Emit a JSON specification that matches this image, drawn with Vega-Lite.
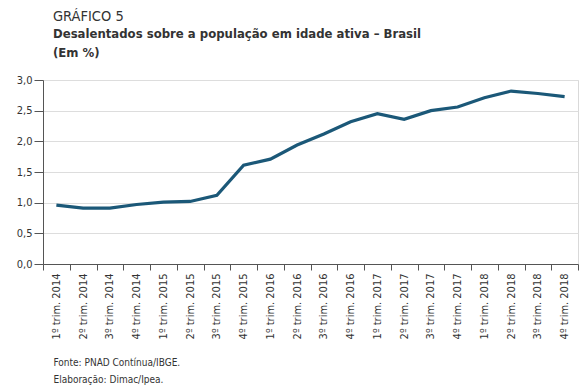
{
  "$schema": "https://vega.github.io/schema/vega-lite/v6.json",
  "width": 535,
  "height": 184,
  "autosize": "none",
  "padding": {"left": 43, "top": 80, "right": 6, "bottom": 123},
  "background": "white",
  "config": {
    "font": "'DejaVu Sans Condensed', sans-serif",
    "view": {"stroke": "#d9d9d9", "strokeWidth": 1}
  },
  "title": {
    "text": "GRÁFICO 5",
    "subtitle": ["Desalentados sobre a população em idade ativa – Brasil", "(Em %)"],
    "anchor": "start",
    "frame": "group",
    "dx": 10,
    "offset": 13,
    "font": "'DejaVu Sans Condensed', sans-serif",
    "fontSize": 14.5,
    "fontWeight": "normal",
    "color": "#333333",
    "subtitleFont": "'DejaVu Sans Condensed', sans-serif",
    "subtitleFontSize": 13,
    "subtitleFontWeight": "bold",
    "subtitleColor": "#333333",
    "subtitlePadding": 4,
    "subtitleLineHeight": 19
  },
  "data": {
    "values": [
      {"q": "1º trim. 2014", "v": 0.96},
      {"q": "2º trim. 2014", "v": 0.91},
      {"q": "3º trim. 2014", "v": 0.91},
      {"q": "4º trim. 2014", "v": 0.97},
      {"q": "1º trim. 2015", "v": 1.01},
      {"q": "2º trim. 2015", "v": 1.02},
      {"q": "3º trim. 2015", "v": 1.12},
      {"q": "4º trim. 2015", "v": 1.61},
      {"q": "1º trim. 2016", "v": 1.71},
      {"q": "2º trim. 2016", "v": 1.94},
      {"q": "3º trim. 2016", "v": 2.12},
      {"q": "4º trim. 2016", "v": 2.32},
      {"q": "1º trim. 2017", "v": 2.45},
      {"q": "2º trim. 2017", "v": 2.36},
      {"q": "3º trim. 2017", "v": 2.50},
      {"q": "4º trim. 2017", "v": 2.56},
      {"q": "1º trim. 2018", "v": 2.71},
      {"q": "2º trim. 2018", "v": 2.82},
      {"q": "3º trim. 2018", "v": 2.78},
      {"q": "4º trim. 2018", "v": 2.73}
    ]
  },
  "mark": {"type": "line", "color": "#1b5878", "strokeWidth": 3.2},
  "encoding": {
    "x": {
      "field": "q",
      "type": "ordinal",
      "sort": null,
      "scale": {"type": "band", "paddingInner": 0, "paddingOuter": 0},
      "axis": {
        "tickBand": "extent",
        "labelAngle": -90,
        "labelAlign": "right",
        "labelBaseline": "middle",
        "labelFont": "'DejaVu Sans Condensed', sans-serif",
        "labelFontSize": 11,
        "labelColor": "#333333",
        "labelPadding": 3,
        "tickSize": 6,
        "tickColor": "#555555",
        "domainColor": "#555555",
        "grid": false,
        "title": ["Fonte: PNAD Contínua/IBGE.", "Elaboração: Dimac/Ipea."],
        "titleFont": "'DejaVu Sans Condensed', sans-serif",
        "titleFontSize": 10,
        "titleFontWeight": "normal",
        "titleColor": "#333333",
        "titleAnchor": "start",
        "titleAlign": "left",
        "titleBaseline": "top",
        "titleX": 10,
        "titleY": 93,
        "titleLineHeight": 17
      }
    },
    "y": {
      "field": "v",
      "type": "quantitative",
      "scale": {"domain": [0, 3], "nice": false},
      "axis": {
        "values": [0, 0.5, 1, 1.5, 2, 2.5, 3],
        "labelExpr": "replace(format(datum.value, '.1f'), '.', ',')",
        "labelFont": "'DejaVu Sans Condensed', sans-serif",
        "labelFontSize": 11,
        "labelColor": "#333333",
        "labelPadding": 2,
        "tickSize": 9,
        "tickColor": "#555555",
        "domainColor": "#555555",
        "gridColor": "#dddddd",
        "title": null
      }
    }
  }
}
